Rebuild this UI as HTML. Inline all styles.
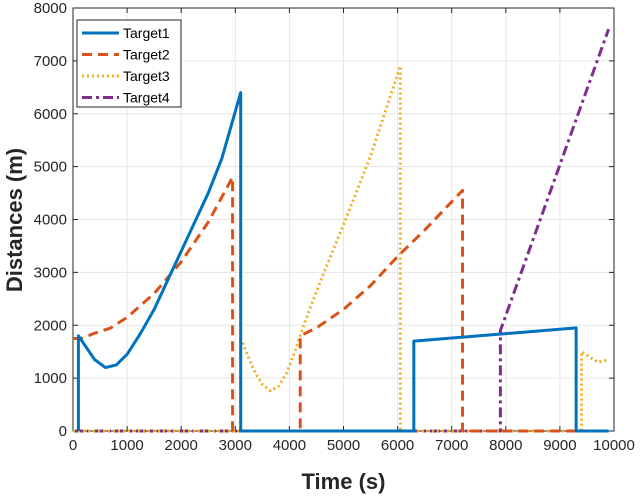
<!DOCTYPE html>
<html><head><meta charset="utf-8"><style>
body{margin:0;background:#fff;}
svg{font-family:"Liberation Sans",sans-serif;}
</style></head><body>
<svg id="c" width="640" height="495"></svg>
<script>
const xTicks=[0,1000,2000,3000,4000,5000,6000,7000,8000,9000,10000];
const yTicks=[0,1000,2000,3000,4000,5000,6000,7000,8000];
const t1x=[100,100,200,400,600,800,1000,1250,1500,1750,2000,2250,2500,2750,3100,3100,6300,6300,9300,9300,9900];
const t1y=[0,1800,1650,1350,1200,1250,1450,1850,2300,2850,3400,3950,4500,5150,6400,0,0,1700,1950,0,0];
const t2x=[0,150,400,700,1000,1500,2000,2500,2950,2950,4200,4200,4500,5000,5500,6000,6500,7200,7200,9900];
const t2y=[1750,1750,1850,1950,2150,2600,3200,3950,4800,0,0,1800,1950,2300,2750,3300,3800,4550,0,0];
const t3x=[0,3100,3100,3200,3300,3400,3500,3650,3800,3950,4100,4300,4600,5000,5500,6050,6050,9400,9400,9550,9700,9900];
const t3y=[0,0,1750,1500,1250,1050,880,760,850,1100,1500,2100,2900,3900,5200,6900,0,0,1500,1400,1300,1350];
const t4x=[0,7900,7900,9900];
const t4y=[0,0,1900,7600];
const names=["Target1","Target2","Target3","Target4"];
const L=73,R=614,T=8,B=431;
const sx=v=>L+(R-L)*v/10000, sy=v=>B-(B-T)*v/8000;
const svg=document.getElementById('c');const NS='http://www.w3.org/2000/svg';
function mk(tag,a,p){const e=document.createElementNS(NS,tag);for(const k in a)e.setAttribute(k,a[k]);(p||svg).appendChild(e);return e;}
const grid=mk('g',{});


xTicks.forEach(v=>{mk('line',{x1:sx(v),x2:sx(v),y1:T,y2:B,stroke:'#e6e6e6'},grid);
 mk('line',{x1:sx(v),x2:sx(v),y1:B,y2:B-5,stroke:'#262626'});mk('line',{x1:sx(v),x2:sx(v),y1:T,y2:T+5,stroke:'#262626'});
 const t=mk('text',{x:sx(v),y:B+19,'text-anchor':'middle','font-size':15,fill:'#262626'});t.textContent=v;
 
 });
yTicks.forEach(v=>{mk('line',{x1:L,x2:R,y1:sy(v),y2:sy(v),stroke:'#e6e6e6'},grid);
 mk('line',{x1:L,x2:L+5,y1:sy(v),y2:sy(v),stroke:'#262626'});mk('line',{x1:R,x2:R-5,y1:sy(v),y2:sy(v),stroke:'#262626'});
 const t=mk('text',{x:L-6,y:sy(v)+5,'text-anchor':'end','font-size':15,fill:'#262626'});t.textContent=v;
 
 });
const fr=mk('rect',{x:L,y:T,width:R-L,height:B-T,fill:'none',stroke:'#262626'});


const styles=[{c:'#0072bd',d:''},{c:'#d95319',d:'10,6'},{c:'#edb120',d:'2,3'},{c:'#7e2f8e',d:'10,4,3,4'}];
const xs=[t1x,t2x,t3x,t4x],ys=[t1y,t2y,t3y,t4y];
[3,2,1,0].forEach(i=>{const pts=xs[i].map((x,j)=>sx(x)+','+sy(ys[i][j])).join(' ');
 const p=mk('polyline',{points:pts,fill:'none',stroke:styles[i].c,'stroke-width':3,'stroke-dasharray':styles[i].d,'stroke-linejoin':'round'});
 
 });
const lg=mk('g',{});


mk('rect',{x:77,y:20,width:104,height:87,fill:'#fff',stroke:'#262626'},lg);
names.forEach((n,i)=>{const y=33+i*21.5;
 mk('line',{x1:82,x2:119,y1:y,y2:y,stroke:styles[i].c,'stroke-width':3,'stroke-dasharray':styles[i].d},lg);
 const t=mk('text',{x:123,y:y+5,'font-size':14,fill:'#000'},lg);t.textContent=n;
 
 });
const xl=mk('text',{x:(L+R)/2,y:489,'text-anchor':'middle','font-size':22,'font-weight':'bold',fill:'#262626'});xl.textContent='Time (s)';


const yl=mk('text',{x:0,y:0,transform:'translate(22,220) rotate(-90)','text-anchor':'middle','font-size':22,'font-weight':'bold',fill:'#262626'});yl.textContent='Distances (m)';


</script>
</body></html>
